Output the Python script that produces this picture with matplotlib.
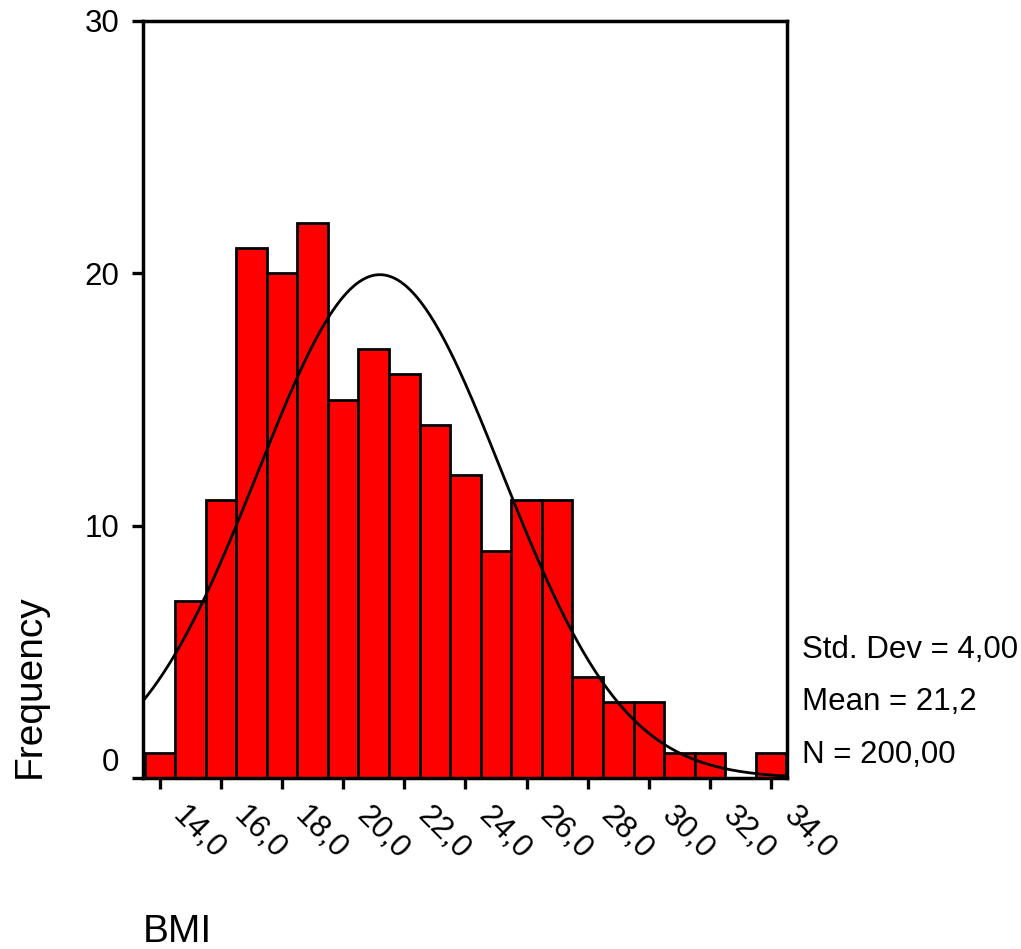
import numpy as np
import matplotlib
matplotlib.use('Agg')
import matplotlib.pyplot as plt
from matplotlib.transforms import ScaledTranslation

# ── data ──────────────────────────────────────────────────────────────────────
bmi_bins  = [14, 15, 16, 17, 18, 19, 20, 21, 22, 23, 24,
             25, 26, 27, 28, 29, 30, 31, 32, 33, 34]
counts    = [1, 7, 11, 21, 20, 22, 15, 17, 16, 14, 12,
             9, 11, 11, 4, 3, 3, 1, 1, 0, 1]
x_ticks   = [14, 16, 18, 20, 22, 24, 26, 28, 30, 32, 34]
x_labels  = ['14,0', '16,0', '18,0', '20,0', '22,0', '24,0',
             '26,0', '28,0', '30,0', '32,0', '34,0']
y_ticks   = [0, 10, 20, 30]
std_dev, mean_bmi, n_obs = 4.00, 21.2, 200
stats_txt = ['Std. Dev = 4,00', 'Mean = 21,2', 'N = 200,00']

plt.rcParams['font.family'] = ['Liberation Sans', 'DejaVu Sans']
FS = 22.5

fig = plt.figure(figsize=(10.21, 9.49), dpi=100)
W, H = 1021, 949
ax = fig.add_axes([143 / W, 1 - 778 / H, (787 - 143) / W, (778 - 21) / H])

ax.bar(bmi_bins, counts, width=1.0, color='#ff0000', edgecolor='black',
       linewidth=2.0, zorder=2)

# normal curve scaled to bin width 1
xs = np.linspace(13.45, 34.5, 400)
ys = n_obs * 1.0 / (std_dev * np.sqrt(2 * np.pi)) * np.exp(-0.5 * ((xs - mean_bmi) / std_dev) ** 2)
ax.plot(xs, ys, color='black', lw=2.0, zorder=3)

ax.set_xlim(13.45, 34.52)
ax.set_ylim(0, 30)
ax.set_xticks(x_ticks)
ax.set_xticklabels([])
# rotated tick labels, placed to the right of each tick like SPSS does
lab_tr = ax.get_xaxis_transform() + ScaledTranslation(0.28, -0.23, fig.dpi_scale_trans)
for xv, lab in zip(x_ticks, x_labels):
    ax.text(xv, 0, lab, transform=lab_tr, rotation=-45, ha='left', va='top',
            rotation_mode='anchor', fontsize=FS, clip_on=False)
ax.set_yticks(y_ticks)
ax.set_yticklabels([str(v) for v in y_ticks], fontsize=FS)
ax.get_yticklabels()[0].set_va('bottom')
ax.tick_params(axis='both', direction='out', length=8, width=2.4, color='black')
ax.tick_params(axis='y', pad=9)
for sp in ax.spines.values():
    sp.set_linewidth(2.5)

fig.text(30 / W, 1 - 686 / H, 'Frequency', rotation=90, ha='center', va='center', fontsize=28)
fig.text(143 / W, 1 - 932 / H, 'BMI', ha='left', va='center', fontsize=28)

for txt, yp in zip(stats_txt, [650, 702, 755]):
    fig.text(802 / W, 1 - yp / H, txt, ha='left', va='center', fontsize=FS)

plt.savefig('out.png', dpi=100)
